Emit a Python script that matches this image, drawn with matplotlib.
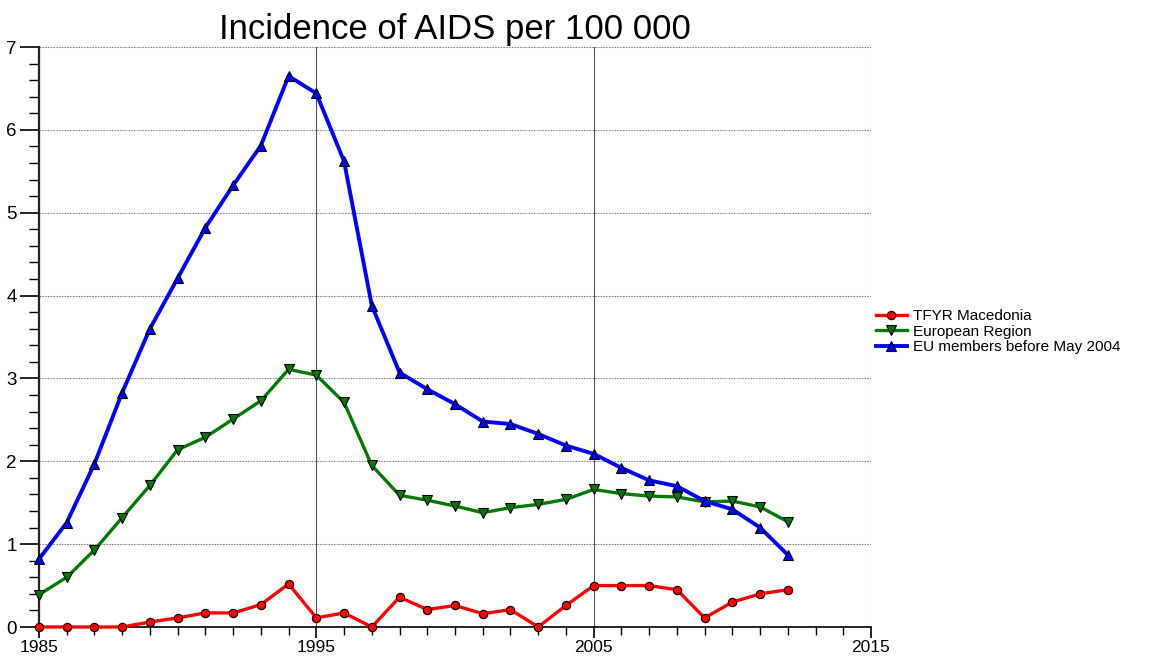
import matplotlib
matplotlib.use("Agg")
import matplotlib.pyplot as plt
from matplotlib.ticker import MultipleLocator

plt.rcParams['font.family'] = ['Liberation Sans', 'DejaVu Sans']

years = list(range(1985, 2013))
macedonia = [0.00, 0.00, 0.00, 0.00, 0.06, 0.11, 0.17, 0.17, 0.27, 0.52,
             0.11, 0.17, 0.00, 0.36, 0.21, 0.26, 0.16, 0.21, 0.00, 0.26,
             0.50, 0.50, 0.50, 0.45, 0.11, 0.30, 0.40, 0.45]
european = [0.39, 0.60, 0.93, 1.32, 1.71, 2.14, 2.29, 2.51, 2.73, 3.11,
            3.04, 2.71, 1.95, 1.59, 1.53, 1.46, 1.38, 1.44, 1.48, 1.54,
            1.66, 1.61, 1.58, 1.57, 1.51, 1.52, 1.45, 1.27]
eu = [0.82, 1.26, 1.97, 2.83, 3.60, 4.21, 4.82, 5.33, 5.81, 6.65,
      6.44, 5.62, 3.88, 3.07, 2.87, 2.69, 2.48, 2.45, 2.33, 2.19,
      2.09, 1.92, 1.77, 1.70, 1.52, 1.42, 1.20, 0.87]
labels = ["TFYR Macedonia", "European Region", "EU members before May 2004"]
title = "Incidence of AIDS per 100 000"
xticks = [1985, 1995, 2005, 2015]
yticks = list(range(0, 8))

fig = plt.figure(figsize=(11.65, 6.57), dpi=100)
ax = fig.add_axes([39/1165, 1-627/657, (871-39)/1165, (627-47)/657])

ax.set_xlim(1985, 2015)
ax.set_ylim(0, 7)

# grid
for y in yticks[1:]:
    ax.axhline(y, color='#888888', lw=0.8, ls=(0, (1.5, 1.0)), zorder=1)
for x in xticks[1:]:
    c = '#555555' if x < 2015 else '#aaaaaa'
    ax.axvline(x, color=c, lw=0.8, zorder=1)

ax.plot(years, macedonia, color='#ff0000', lw=2.4, marker='o', ms=6,
        mfc='#ff0000', mec='black', mew=0.8, label=labels[0], zorder=3, clip_on=False)
ax.plot(years, european, color='#007a00', lw=2.4, marker='v', ms=7.5,
        mfc='#007a00', mec='black', mew=0.8, label=labels[1], zorder=3, clip_on=False)
ax.plot(years, eu, color='#0000ff', lw=2.8, marker='^', ms=7.5,
        mfc='#0000ff', mec='black', mew=0.8, label=labels[2], zorder=3, clip_on=False)

ax.spines['top'].set_visible(False)
ax.spines['right'].set_visible(False)
ax.spines['left'].set_linewidth(1.6)
ax.spines['left'].set_color('#222222')
ax.spines['bottom'].set_linewidth(1.2)

ax.set_xticks(xticks)
ax.set_yticks(yticks)
ax.xaxis.set_minor_locator(MultipleLocator(1))
ax.yaxis.set_minor_locator(MultipleLocator(0.2))
ax.tick_params(axis='both', which='both', direction='out', colors='black')
ax.tick_params(axis='x', which='major', length=8, width=1.2, pad=1, labelsize=12.5)
ax.tick_params(axis='x', which='minor', length=6, width=1.0)
ax.tick_params(axis='y', which='major', length=14, width=1.2, pad=2, labelsize=13.5)
ax.tick_params(axis='y', which='minor', length=7, width=1.0)

fig.text(455/1165, 1-39/657, title, ha='center', va='baseline', fontsize=25)

fig.legend(loc='upper left', bbox_to_anchor=(876/1165, 1-309/657), frameon=False,
           fontsize=11, handlelength=2.0, handletextpad=0.4, labelspacing=0.1,
           borderaxespad=0, borderpad=0)

fig.savefig('out.png', dpi=100)
